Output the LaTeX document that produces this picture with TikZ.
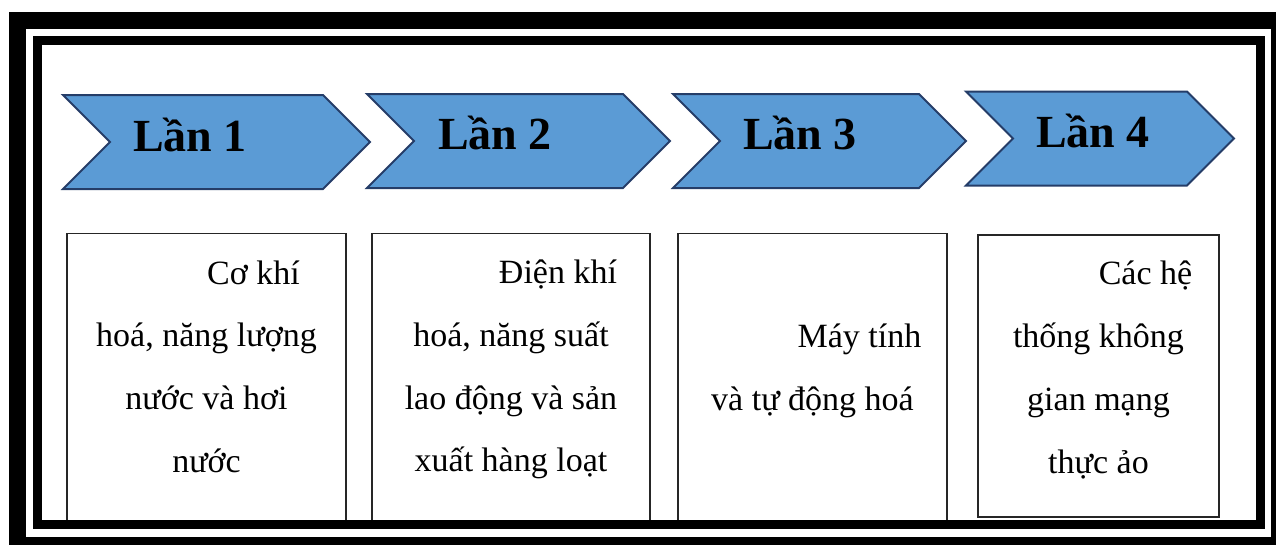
\documentclass[tikz,border=0pt]{standalone}
\usepackage{fontspec}
\setmainfont{Liberation Serif}
\usepackage{tikz}
\usetikzlibrary{shapes.symbols}
\definecolor{chevfill}{RGB}{91,155,213}
\definecolor{chevline}{RGB}{37,61,104}
\tikzstyle{chevron} = [signal, signal from=west, signal to=east, signal pointer angle=90, minimum height=94pt, inner sep=0pt, draw=chevline, line width=2pt, fill=chevfill]
\tikzstyle{heading} = [font=\fontsize{46}{50}\selectfont\bfseries, anchor=base, inner sep=0pt]
\tikzstyle{card} = [rectangle, draw=black!85, line width=1.8pt, fill=white, minimum height=288pt]
\tikzstyle{cardtext} = [align=center, font=\fontsize{34}{62.7}\selectfont, inner sep=0pt]

\begin{document}
\begin{tikzpicture}[x=1pt, y=-1pt]
    \useasboundingbox (0,0) rectangle (1276,544);

    \node (ch1) [chevron, minimum width=307pt] at (216.5,142) {};
    \node (ch2) [chevron, minimum width=303pt] at (518.5,141) {};
    \node (ch3) [chevron, minimum width=293pt] at (819.5,141) {};
    \node (ch4) [chevron, minimum width=268pt] at (1100,138.5) {};
    \node (h1) [heading] at (190,151) {Lần 1};
    \node (h2) [heading] at (495,149) {Lần 2};
    \node (h3) [heading] at (800,149) {Lần 3};
    \node (h4) [heading] at (1093,147) {Lần 4};

    \node (c1) [card, minimum width=279pt] at (206.5,377.5) {};
    \node (c2) [card, minimum width=278pt] at (511,377.5) {};
    \node (c3) [card, minimum width=269pt] at (812.5,377.5) {};
    \node (c4) [card, minimum width=241pt, minimum height=282pt] at (1098.5,376) {};
    \node (t1) [cardtext] at ([yshift=11pt]c1.center) {\hspace*{94pt}Cơ khí\\hoá, năng lượng\\nước và hơi\\nước};
    \node (t2) [cardtext] at ([yshift=8pt]c2.center) {\hspace*{94pt}Điện khí\\hoá, năng suất\\lao động và sản\\xuất hàng loạt};
    \node (t3) [cardtext] at ([yshift=6.5pt]c3.center) {\hspace*{94pt}Máy tính\\và tự động hoá};
    \node (t4) [cardtext] at ([yshift=6pt]c4.center) {\hspace*{94pt}Các hệ\\thống không\\gian mạng\\thực ảo};

    % double frame
    \draw [line width=17pt] (17.5,20) rectangle (1279.5,545.5);
    \draw [line width=9pt] (37.5,40.5) rectangle (1260,524.5);
\end{tikzpicture}
\end{document}
